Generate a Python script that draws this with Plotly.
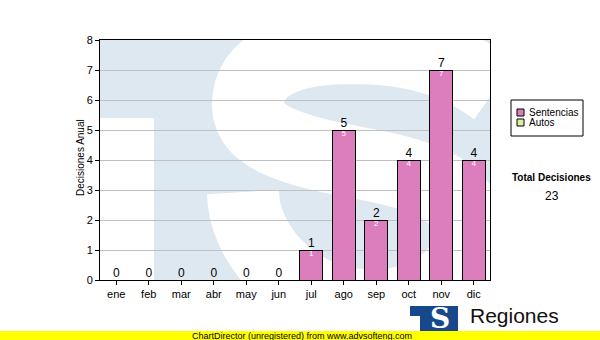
import plotly.graph_objects as go

months = ["ene", "feb", "mar", "abr", "may", "jun", "jul", "ago", "sep", "oct", "nov", "dic"]
sentencias = [0, 0, 0, 0, 0, 0, 1, 5, 2, 4, 7, 4]
autos = [0, 0, 0, 0, 0, 0, 0, 0, 0, 0, 0, 0]
series_names = ["Sentencias", "Autos"]
series_colors = ["#dc7dbd", "#d9f0a3"]
y_ticks = [0, 1, 2, 3, 4, 5, 6, 7, 8]
y_title = "Decisiones Anual"
total_label = "Total Decisiones"
footer_text = "ChartDirector (unregistered) from www.advsofteng.com"
logo_title = "Regiones"
logo_sub = "Tribunal Supremo de Justicia"

W, H = 600, 340
L, R, T, B = 100, 110, 40, 60
PW, PH = W - L - R, H - T - B
FONT = "Liberation Sans, Arial, sans-serif"
WM_BLUE = "#dee8f1"


def fx(px):
    return (px - L) / PW


def fy(py):
    return (H - B - py) / PH


n = len(months)
xpos = list(range(n))
totals = [s + a for s, a in zip(sentencias, autos)]


def dx(px):
    return (px - L) / (PW / n) - 0.5


def dy(py):
    return (H - B - py) / (PH / y_ticks[-1])


def bezier_poly(segs, steps=16):
    out = []
    cur = None
    for cmd, p in segs:
        if cmd in ("M", "L"):
            cur = p[0]
            out.append(cur)
        elif cmd == "C":
            p0, p1, p2, p3 = cur, p[0], p[1], p[2]
            for k in range(1, steps + 1):
                t = k / steps
                a = (1 - t) ** 3
                b = 3 * (1 - t) ** 2 * t
                c = 3 * (1 - t) * t ** 2
                d = t ** 3
                out.append((a * p0[0] + b * p1[0] + c * p2[0] + d * p3[0],
                            a * p0[1] + b * p1[1] + c * p2[1] + d * p3[1]))
            cur = p3
    return out


fig = go.Figure()
for name, vals, col in zip(series_names, [sentencias, autos], series_colors):
    fig.add_bar(x=xpos, y=vals, name=name, showlegend=False,
                marker=dict(color=col, line=dict(color="black", width=1)))

fig.add_scatter(x=xpos, y=totals, mode="text", showlegend=False,
                text=[str(v) for v in totals], textposition="top center",
                textfont=dict(family=FONT, size=12, color="black"), cliponaxis=False)
fig.add_scatter(x=xpos, y=sentencias, mode="text", showlegend=False,
                text=[str(v) if v else "" for v in sentencias], textposition="bottom center",
                textfont=dict(family=FONT, size=8, color="white"), cliponaxis=False)

shapes = []
# watermark: white gap of the "T"
shapes.append(dict(type="rect", xref="x", yref="y", layer="below",
                   x0=dx(100), x1=dx(154), y0=dy(280), y1=dy(118),
                   fillcolor="white", line=dict(width=0)))
# watermark: white "S" stroke (large faded logo)
segs = [("M", [(243, 192)]),
        ("C", [(243, 240), (290, 300), (360, 305)]),
        ("C", [(430, 310), (470, 270), (470, 235)]),
        ("C", [(470, 190), (420, 175), (370, 165)]),
        ("C", [(300, 152), (248, 140), (248, 105)]),
        ("C", [(248, 65), (290, 48), (350, 48)]),
        ("C", [(410, 48), (455, 60), (495, 90)])]
poly = bezier_poly(segs)
path = "M " + " L ".join(f"{dx(a):.4f},{dy(b):.4f}" for a, b in poly)
shapes.append(dict(type="path", xref="x", yref="y", layer="below", path=path,
                   fillcolor="rgba(0,0,0,0)", line=dict(color="white", width=72)))

# legend box
shapes.append(dict(type="rect", xref="paper", yref="paper", x0=fx(511), x1=fx(583),
                   y0=fy(136), y1=fy(100), line=dict(color="black", width=1), fillcolor="white"))
ann = []
for i, (name, col) in enumerate(zip(series_names, series_colors)):
    top = 109 + 10 * i
    shapes.append(dict(type="rect", xref="paper", yref="paper", x0=fx(517), x1=fx(524),
                       y0=fy(top + 7), y1=fy(top), fillcolor=col,
                       line=dict(color="black", width=1)))
    ann.append(dict(x=fx(527), y=fy(top + 3.5), xref="paper", yref="paper", text=name,
                    showarrow=False, xanchor="left", yanchor="middle",
                    font=dict(family=FONT, size=10, color="black")))

# logo
shapes.append(dict(type="rect", xref="paper", yref="paper", x0=fx(410), x1=fx(458),
                   y0=fy(331), y1=fy(306), fillcolor="#18488c", line=dict(width=0)))
shapes.append(dict(type="rect", xref="paper", yref="paper", x0=fx(410), x1=fx(420),
                   y0=fy(331), y1=fy(316), fillcolor="white", line=dict(width=0)))


def A(x, y, text, xa="center", ya="middle", **kw):
    d = dict(x=fx(x), y=fy(y), xref="paper", yref="paper", text=text, showarrow=False,
             xanchor=xa, yanchor=ya)
    d.update(kw)
    return d


ann += [
    A(80, 158, y_title, textangle=-90, font=dict(family=FONT, size=10, color="black")),
    A(551, 177, "<b>" + total_label + "</b>", font=dict(family=FONT, size=10, color="black")),
    A(552, 196, str(sum(sentencias) + sum(autos)), font=dict(family=FONT, size=12, color="black")),
    A(440, 318, "<b>S</b>", font=dict(family="DejaVu Serif, serif", size=28, color="white")),
    A(468, 315, logo_title, xa="left", font=dict(family=FONT, size=21, color="#111111")),
    A(468, 336, logo_sub, xa="left", font=dict(family=FONT, size=11, color="#333333")),
    # yellow footer band (covers bottom of subtitle)
    A(0, 340, " ", xa="left", ya="bottom", width=600, height=9, bgcolor="#ffff00",
      borderpad=0, borderwidth=0, font=dict(size=6)),
    A(190, 335.5, footer_text, xa="left", font=dict(family=FONT, size=9, color="black")),
]

fig.update_layout(
    width=W, height=H, autosize=False,
    margin=dict(l=L, r=R, t=T, b=B, pad=0),
    paper_bgcolor="white", plot_bgcolor=WM_BLUE,
    barmode="stack", bargap=0.29,
    font=dict(family=FONT, size=11, color="black"),
    shapes=shapes, annotations=ann,
    xaxis=dict(range=[-0.5, n - 0.5], tickvals=xpos, ticktext=months, ticks="outside",
               ticklen=4, tickcolor="black", showline=True, linecolor="black", linewidth=1,
               mirror=True, showgrid=False, zeroline=False, fixedrange=True,
               tickfont=dict(family=FONT, size=11, color="black")),
    yaxis=dict(range=[0, y_ticks[-1]], tickvals=y_ticks, ticks="outside", ticklen=4,
               tickcolor="black", showline=True, linecolor="black", linewidth=1, mirror=True,
               showgrid=True, gridcolor="#c0c0c0", gridwidth=1, zeroline=False, fixedrange=True,
               tickfont=dict(family=FONT, size=11, color="black")),
)

fig.write_html("out.html", config={"displayModeBar": False})
